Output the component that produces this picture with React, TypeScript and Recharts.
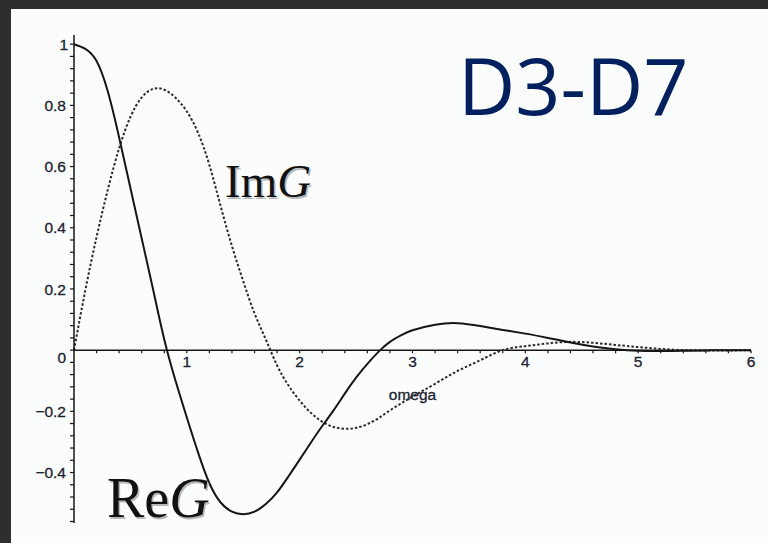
import React from 'react';
import { LineChart, Line, XAxis, YAxis, ReferenceLine, ReferenceDot } from 'recharts';

// Frequency grid and the real / imaginary parts of G(omega)
const omega = [
  0.0, 0.1, 0.2, 0.3, 0.4, 0.5, 0.6, 0.7, 0.8, 0.9,
  1.0, 1.1, 1.2, 1.3, 1.4, 1.5, 1.6, 1.7, 1.8, 1.9,
  2.0, 2.1, 2.2, 2.3, 2.4, 2.5, 2.6, 2.7, 2.8, 2.9,
  3.0, 3.2, 3.4, 3.6, 3.8, 4.0, 4.2, 4.4, 4.6, 4.8,
  5.0, 5.2, 5.4, 5.6, 5.8, 6.0,
];
const reG = [
  1.0, 0.985, 0.945, 0.845, 0.695, 0.53, 0.365, 0.2, 0.035, -0.1,
  -0.22, -0.335, -0.435, -0.498, -0.528, -0.536, -0.528, -0.503, -0.465, -0.413,
  -0.358, -0.302, -0.248, -0.197, -0.142, -0.09, -0.045, -0.005, 0.027, 0.049,
  0.065, 0.083, 0.088, 0.079, 0.066, 0.054, 0.04, 0.025, 0.012, 0.003,
  -0.002, -0.003, -0.002, -0.001, 0.0, 0.0,
];
const imG = [
  0.0, 0.195, 0.37, 0.525, 0.66, 0.762, 0.826, 0.854, 0.851, 0.825,
  0.78, 0.71, 0.605, 0.47, 0.34, 0.225, 0.12, 0.035, -0.05, -0.115,
  -0.165, -0.205, -0.234, -0.251, -0.257, -0.254, -0.242, -0.222, -0.197, -0.174,
  -0.152, -0.11, -0.068, -0.033, 0.0, 0.013, 0.022, 0.027, 0.024, 0.017,
  0.01, 0.004, 0.0, -0.001, -0.001, 0.0,
];

// Axis ticks and their labels
const yMajorTicks = [-0.4, -0.2, 0, 0.2, 0.4, 0.6, 0.8, 1];
const yMajorLabels = ['\u22120.4', '\u22120.2', '0', '0.2', '0.4', '0.6', '0.8', '1'];
const xMajorTicks = [1, 2, 3, 4, 5, 6];
const xMajorLabels = ['1', '2', '3', '4', '5', '6'];

const yMinorTicks = Array.from({ length: 40 }, (_, i) => Math.round((-0.56 + 0.04 * i) * 100) / 100);
const xMinorTicks = Array.from({ length: 30 }, (_, i) => Math.round((0.2 + 0.2 * i) * 10) / 10);

const data = omega.map((w, i) => ({ omega: w, re: reG[i], im: imG[i] }));

const INK = '#161616';
const LABEL_INK = '#1c2230';
const TICK_FONT = '"Liberation Sans", Arial, sans-serif';

const YTick = (props: any) => {
  const { x, y, payload } = props;
  const idx = yMajorTicks.findIndex((t) => Math.abs(t - payload.value) < 1e-6);
  if (idx < 0) return <g />;
  const isZero = yMajorTicks[idx] === 0;
  return (
    <text
      x={x + (yMajorTicks[idx] === 1 ? 2 : 0)}
      y={y + (isZero ? 7 : 0)}
      dy="0.36em"
      textAnchor="end"
      fontSize={15.5}
      fontFamily={TICK_FONT}
      fill={LABEL_INK}
      stroke={LABEL_INK}
      strokeWidth={0.3}
    >
      {yMajorLabels[idx]}
    </text>
  );
};

export default function App() {
  return (
    <div style={{ position: 'fixed', left: 0, top: 0, width: 768, height: 543, background: '#2e2e2e', overflow: 'hidden' }}>
      <div style={{ position: 'absolute', left: 11, top: 9, width: 757, height: 534, background: '#fbfdfd' }} />
      <div style={{ position: 'absolute', left: 0, top: 0 }}>
        <LineChart width={768} height={543} data={data} margin={{ top: 35, right: 17, bottom: 20, left: 0 }}>
          <XAxis dataKey="omega" type="number" domain={[0, 6]} hide />
          <YAxis
            type="number"
            domain={[-0.565, 1.03]}
            ticks={yMinorTicks}
            interval={0}
            allowDataOverflow
            width={74}
            tickSize={4}
            tickMargin={4}
            axisLine={{ stroke: INK, strokeWidth: 1.5 }}
            tickLine={{ stroke: INK, strokeWidth: 1.2 }}
            tick={<YTick />}
          />
          <ReferenceLine y={0} stroke={INK} strokeWidth={1.5} />
          {xMinorTicks.map((t) => {
            const k = xMajorTicks.indexOf(t);
            return (
              <ReferenceLine
                key={`xt-${t}`}
                segment={[{ x: t, y: 0 }, { x: t, y: -0.01 }]}
                stroke={INK}
                strokeWidth={1.2}
                label={
                  k >= 0
                    ? {
                        value: xMajorLabels[k],
                        position: 'bottom',
                        offset: 3,
                        fontSize: 15.5,
                        fontFamily: TICK_FONT,
                        fill: LABEL_INK,
                        stroke: LABEL_INK,
                        strokeWidth: 0.3,
                      }
                    : undefined
                }
              />
            );
          })}
          <ReferenceDot
            x={3}
            y={-0.145}
            r={0}
            fill="none"
            stroke="none"
            label={{ value: 'omega', position: 'center', fontSize: 15.5, fontFamily: TICK_FONT, fill: LABEL_INK, stroke: LABEL_INK, strokeWidth: 0.3 }}
          />
          <Line
            type="natural"
            dataKey="im"
            stroke="#2a2a2a"
            strokeWidth={2}
            strokeDasharray="2.5 2"
            dot={false}
            isAnimationActive={false}
          />
          <Line
            type="natural"
            dataKey="re"
            stroke={INK}
            strokeWidth={2}
            dot={false}
            isAnimationActive={false}
          />
        </LineChart>
      </div>
      <svg width={768} height={543} style={{ position: 'absolute', left: 0, top: 0, pointerEvents: 'none' }}>
        <text x={458} y={115} fontSize={79} fontFamily='"Open Sans", "Noto Sans", sans-serif' fill="#002060">
          D3-D7
        </text>
        <g fontFamily='"Liberation Serif", "Times New Roman", serif'>
          <text x={226.5} y={198.5} fontSize={47} fill="#b8b8b8">
            Im<tspan fontStyle="italic">G</tspan>
          </text>
          <text x={225} y={197} fontSize={47} fill="#111">
            Im<tspan fontStyle="italic">G</tspan>
          </text>
          <text x={108.5} y={518.5} fontSize={56} fill="#b8b8b8">
            Re<tspan fontStyle="italic">G</tspan>
          </text>
          <text x={107} y={517} fontSize={56} fill="#111">
            Re<tspan fontStyle="italic">G</tspan>
          </text>
        </g>
      </svg>
    </div>
  );
}
